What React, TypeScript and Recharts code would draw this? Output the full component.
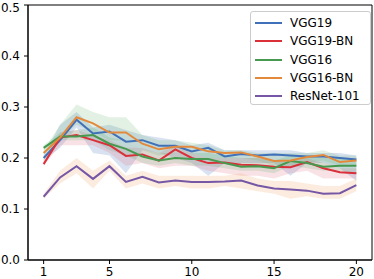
import React from "react";
import { ComposedChart, Line, Area, XAxis, YAxis, ReferenceArea } from "recharts";

const epochs = [1,2,3,4,5,6,7,8,9,10,11,12,13,14,15,16,17,18,19,20];

const vgg19 = [0.200,0.235,0.275,0.248,0.252,0.232,0.235,0.224,0.224,0.213,0.220,0.203,0.208,0.205,0.207,0.205,0.203,0.203,0.200,0.197];
const vgg19Lo = [0.195,0.220,0.260,0.210,0.205,0.170,0.215,0.210,0.200,0.190,0.165,0.190,0.190,0.190,0.190,0.165,0.190,0.190,0.180,0.155];
const vgg19Hi = [0.205,0.265,0.290,0.260,0.265,0.255,0.245,0.240,0.235,0.225,0.230,0.215,0.215,0.215,0.215,0.215,0.210,0.210,0.210,0.205];

const vgg19bn = [0.188,0.240,0.245,0.235,0.225,0.204,0.207,0.195,0.217,0.200,0.190,0.191,0.187,0.186,0.183,0.182,0.192,0.180,0.172,0.170];
const vgg19bnLo = [0.185,0.225,0.225,0.225,0.210,0.185,0.190,0.180,0.185,0.185,0.175,0.170,0.165,0.165,0.160,0.170,0.175,0.160,0.160,0.160];
const vgg19bnHi = [0.195,0.250,0.255,0.245,0.235,0.220,0.220,0.210,0.225,0.210,0.200,0.200,0.200,0.200,0.195,0.190,0.200,0.190,0.180,0.180];

const vgg16 = [0.220,0.242,0.242,0.245,0.228,0.218,0.203,0.195,0.200,0.198,0.198,0.190,0.183,0.184,0.180,0.194,0.190,0.183,0.185,0.185];
const vgg16Lo = [0.215,0.235,0.235,0.235,0.215,0.205,0.190,0.185,0.190,0.185,0.185,0.180,0.175,0.175,0.170,0.185,0.180,0.175,0.175,0.170];
const vgg16Hi = [0.225,0.250,0.255,0.260,0.240,0.235,0.215,0.210,0.210,0.210,0.210,0.205,0.200,0.200,0.195,0.205,0.205,0.200,0.200,0.200];

const vgg16bn = [0.210,0.240,0.280,0.268,0.250,0.250,0.228,0.217,0.222,0.222,0.213,0.210,0.211,0.203,0.194,0.195,0.202,0.206,0.192,0.195];
const vgg16bnLo = [0.205,0.235,0.265,0.250,0.235,0.235,0.215,0.205,0.210,0.210,0.200,0.200,0.200,0.195,0.185,0.185,0.190,0.195,0.185,0.185];
const vgg16bnHi = [0.215,0.265,0.305,0.290,0.280,0.280,0.245,0.235,0.235,0.230,0.225,0.215,0.215,0.210,0.210,0.210,0.210,0.215,0.205,0.205];

const resnet = [0.124,0.162,0.184,0.159,0.184,0.153,0.163,0.152,0.156,0.153,0.153,0.154,0.156,0.146,0.140,0.138,0.136,0.130,0.131,0.147];
const resnetLo = [0.120,0.150,0.170,0.140,0.175,0.140,0.150,0.140,0.145,0.140,0.140,0.145,0.140,0.135,0.130,0.120,0.125,0.120,0.120,0.135];
const resnetHi = [0.130,0.175,0.200,0.175,0.195,0.165,0.175,0.165,0.165,0.165,0.165,0.165,0.170,0.160,0.155,0.155,0.150,0.145,0.145,0.160];

const xTicks = [1, 5, 10, 15, 20];
const yTicks = [0, 0.1, 0.2, 0.3, 0.4, 0.5];

const series = [
  { key: "vgg19", name: "VGG19", vals: vgg19, lo: vgg19Lo, hi: vgg19Hi, color: "#4070b8", fill: "#4070b8" },
  { key: "vgg19bn", name: "VGG19-BN", vals: vgg19bn, lo: vgg19bnLo, hi: vgg19bnHi, color: "#d9303a", fill: "#e07080" },
  { key: "vgg16", name: "VGG16", vals: vgg16, lo: vgg16Lo, hi: vgg16Hi, color: "#47994f", fill: "#60b070" },
  { key: "vgg16bn", name: "VGG16-BN", vals: vgg16bn, lo: vgg16bnLo, hi: vgg16bnHi, color: "#e3893c", fill: "#70b878" },
  { key: "resnet", name: "ResNet-101", vals: resnet, lo: resnetLo, hi: resnetHi, color: "#7657a5", fill: "#f0a060" },
];

const data = epochs.map((x, i) => {
  const row: any = { x };
  series.forEach((s) => {
    row[s.key] = s.vals[i];
    row[s.key + "Band"] = [s.lo[i], s.hi[i]];
  });
  return row;
});

const FONT = "'DejaVu Sans', sans-serif";

const LegendBox = () => (
  <div
    style={{
      position: "absolute",
      left: 250,
      top: 11,
      width: 121,
      height: 94,
      border: "1px solid #cccccc",
      borderRadius: 3,
      background: "rgba(255,255,255,0.8)",
      padding: "2px 0 0 4px",
      fontFamily: FONT,
      fontSize: 12,
      color: "#000",
      boxSizing: "border-box",
      whiteSpace: "nowrap",
    }}
  >
    {series.map((s) => (
      <div key={s.key} style={{ display: "flex", alignItems: "center", height: 18.3 }}>
        <div style={{ width: 27, height: 2, background: s.color, marginRight: 8, flexShrink: 0 }} />
        <span>{s.name}</span>
      </div>
    ))}
  </div>
);

export default function App() {
  return (
    <div style={{ position: "absolute", left: 0, top: 0, width: 374, height: 279 }}>
      <ComposedChart width={374} height={279} data={data} margin={{ top: 5, right: 2, bottom: 0, left: 0 }}>
        <XAxis
          dataKey="x"
          type="number"
          domain={[0.05, 20.95]}
          ticks={xTicks}
          height={19}
          tickSize={4}
          tickMargin={3}
          tick={{ fontSize: 12, fill: "#000", fontFamily: FONT }}
          stroke="#000"
          allowDataOverflow
        />
        <YAxis
          type="number"
          domain={[0, 0.5]}
          ticks={yTicks}
          width={28}
          tickSize={4}
          tickMargin={4}
          tickFormatter={(v: number) => v.toFixed(1)}
          tick={{ fontSize: 12, fill: "#000", fontFamily: FONT }}
          stroke="#000"
          allowDataOverflow
        />
        {series.map((s) => (
          <Area
            key={s.key + "Band"}
            dataKey={s.key + "Band"}
            type="linear"
            stroke="none"
            fill={s.fill}
            fillOpacity={0.2}
            isAnimationActive={false}
            legendType="none"
            activeDot={false}
          />
        ))}
        {series.map((s) => (
          <Line
            key={s.key}
            dataKey={s.key}
            name={s.name}
            type="linear"
            stroke={s.color}
            strokeWidth={2}
            dot={false}
            isAnimationActive={false}
          />
        ))}
        <ReferenceArea x1={0.05} x2={20.95} y1={0} y2={0.5} fill="none" stroke="#000" strokeWidth={1} ifOverflow="visible" />
      </ComposedChart>
      <LegendBox />
    </div>
  );
}
